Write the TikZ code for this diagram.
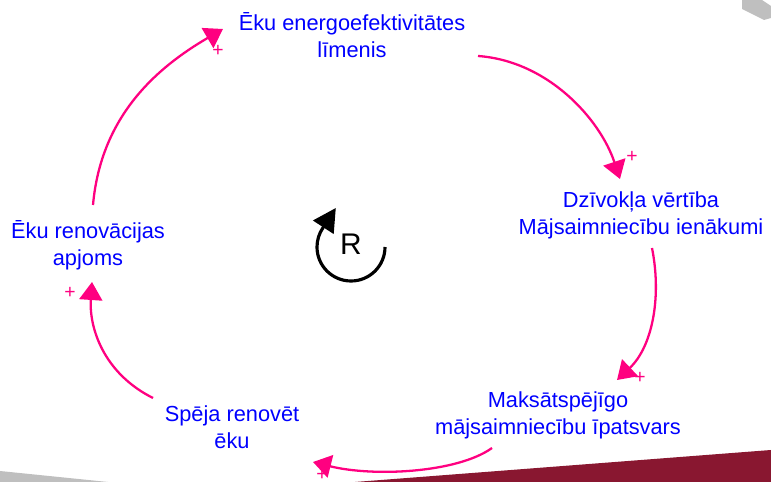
\documentclass[tikz,border=0pt]{standalone}
\usepackage{fontspec}
\setmainfont{Liberation Sans}
\usepackage{tikz}
\usetikzlibrary{arrows.meta}

\definecolor{linkpink}{RGB}{255,0,128}
\definecolor{varblue}{RGB}{0,0,255}
\definecolor{cornerred}{RGB}{137,23,48}
\definecolor{cornergray}{RGB}{191,191,191}

\begin{document}
\begin{tikzpicture}[
    x=0.02cm, y=-0.02cm,
    var/.style={align=center, text=varblue, font=\fontsize{12.4}{15.3}\selectfont, inner sep=1pt},
    link/.style={draw=linkpink, line width=1.3pt, -{Triangle[length=0.36cm, width=0.46cm]}},
    polarity/.style={text=linkpink, font=\fontsize{11}{11}\selectfont, inner sep=0pt},
    loopsign/.style={font=\fontsize{17}{17}\selectfont, inner sep=0pt},
    looparrow/.style={draw=black, line width=1.8pt, -{Triangle[length=0.46cm, width=0.48cm]}},
  ]
  \useasboundingbox (0,0) rectangle (771,482);
  % slide decorations
  \fill[cornergray] (742,0) -- (762,0) -- (771,6) -- (771,18) -- (764,20) -- (742,9) -- cycle;
  \fill[cornergray] (0,471) -- (108,482) -- (0,482) -- cycle;
  \fill[cornerred] (355,482) -- (771,450) -- (771,482) -- cycle;

  % variables
  \node[var] (level) at (352,35) {Ēku energoefektivitātes\\līmenis};
  \node[var] (value) at (641,215) {Dzīvokļa vērtība\\Mājsaimniecību ienākumi};
  \node[var] (afford) at (558,415) {Maksātspējīgo\\mājsaimniecību īpatsvars};
  \node[var] (ability) at (232,427) {Spēja renovēt\\ēku};
  \node[var] (renov) at (88,245) {Ēku renovācijas\\apjoms};

  % causal links
  \draw[link] ([shift={(5,-40)}]renov.center) .. controls +(8,-90) and +(-65,38) .. ([shift={(-129,-6)}]level.center);
  \draw[link] ([shift={(126,21)}]level.center) .. controls +(70,5) and +(-20,-60) .. ([shift={(-21,-36)}]value.center);
  \draw[link] ([shift={(11,33)}]value.center) .. controls +(10,50) and +(35,-33) .. ([shift={(59,-35)}]afford.center);
  \draw[link] ([shift={(-66,33)}]afford.center) .. controls +(-35,25) and +(60,15) .. ([shift={(81,35)}]ability.center);
  \draw[link] ([shift={(-79,-29)}]ability.center) .. controls +(-50,-25) and +(-3,45) .. ([shift={(4,37)}]renov.center);

  % polarities
  \node[polarity] (p1) at (218,51) {+};
  \node[polarity] (p2) at (632,157) {+};
  \node[polarity] (p3) at (640,378) {+};
  \node[polarity] (p4) at (322,475) {+};
  \node[polarity] (p5) at (70,293) {+};

  % loop marker
  \node[loopsign] (loopR) at (351,244) {R};
  \draw[looparrow] ([shift={(34,3)}]loopR.center) arc[start angle=0, end angle=214, radius=34] -- ++(13,-20);
\end{tikzpicture}
\end{document}
